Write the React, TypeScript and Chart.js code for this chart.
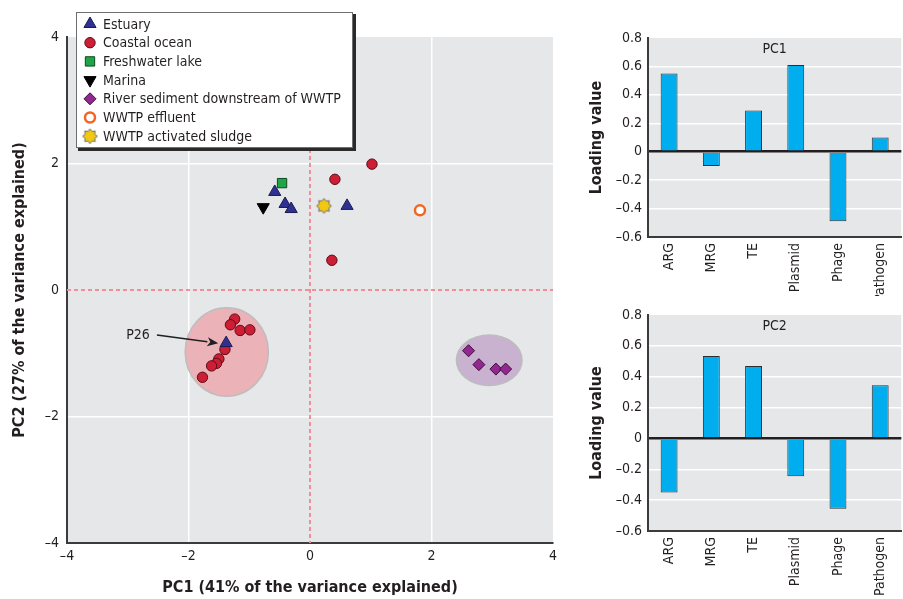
import React, { useEffect, useRef } from 'react';
import { Chart, registerables } from 'chart.js';
import { drawPoint } from 'chart.js/helpers';

Chart.register(...registerables);

const FONT = "'Liberation Sans Narrow', 'DejaVu Sans Condensed', 'Liberation Sans', Arial, sans-serif";
const INK = '#231f20';

// ---------- PCA scores (main panel) ----------
const groupNames = [
  'Estuary',
  'Coastal ocean',
  'Freshwater lake',
  'Marina',
  'River sediment downstream of WWTP',
  'WWTP effluent',
  'WWTP activated sludge',
];
const estuaryX = [-0.58, -0.41, -0.31, 0.61, -1.38];
const estuaryY = [1.55, 1.36, 1.28, 1.33, -0.84];
const coastalX = [1.02, 0.41, 0.36, -1.24, -1.31, -1.15, -0.99, -1.4, -1.5, -1.54, -1.62, -1.77];
const coastalY = [1.99, 1.75, 0.47, -0.46, -0.55, -0.64, -0.63, -0.94, -1.09, -1.16, -1.2, -1.38];
const freshwaterX = [-0.46];
const freshwaterY = [1.69];
const marinaX = [-0.77];
const marinaY = [1.31];
const riverX = [2.61, 2.78, 3.06, 3.22];
const riverY = [-0.96, -1.18, -1.25, -1.25];
const effluentX = [1.81];
const effluentY = [1.26];
const sludgeX = [0.23];
const sludgeY = [1.33];

// cluster ellipses (centre x, centre y, radius x, radius y) in PC units
const ellipseCX = [-1.37, 2.95];
const ellipseCY = [-0.98, -1.11];
const ellipseRX = [0.685, 0.54];
const ellipseRY = [0.7, 0.4];

// P26 annotation
const p26Label = 'P26';
const p26LabelXY = [-2.83, -0.71];
const p26ArrowFrom = [-2.52, -0.71];
const p26ArrowTo = [-1.51, -0.84];

const axisTicks = [-4, -2, 0, 2, 4];

// ---------- loadings ----------
const loadingCategories = ['ARG', 'MRG', 'TE', 'Plasmid', 'Phage', 'Pathogen'];
const pc1Loadings = [0.55, -0.1, 0.29, 0.61, -0.49, 0.1];
const pc2Loadings = [-0.35, 0.535, 0.47, -0.245, -0.455, 0.345];

const fmtNum = (v: number) => {
  const r = Math.round(v * 10) / 10;
  if (r === 0) return '0';
  const s = Math.abs(r).toString();
  return r < 0 ? '\u2013' + s : s;
};

function makeStar(): HTMLCanvasElement {
  const c = document.createElement('canvas');
  c.width = 17;
  c.height = 17;
  const ctx = c.getContext('2d')!;
  const cx = 8.5, cy = 8.5, ro = 7.5, ri = 5.2, n = 8;
  ctx.beginPath();
  for (let i = 0; i < n * 2; i++) {
    const a = (Math.PI * i) / n - Math.PI / 2;
    const r = i % 2 === 0 ? ro : ri;
    const x = cx + r * Math.cos(a);
    const y = cy + r * Math.sin(a);
    if (i === 0) ctx.moveTo(x, y);
    else ctx.lineTo(x, y);
  }
  ctx.closePath();
  ctx.fillStyle = '#f2c811';
  ctx.fill();
  ctx.lineWidth = 1;
  ctx.strokeStyle = '#6b6b6b';
  ctx.stroke();
  return c;
}

function ScatterPanel() {
  const ref = useRef<HTMLCanvasElement>(null);
  useEffect(() => {
    const star = makeStar();
    const groups = [
      { xs: estuaryX, ys: estuaryY, style: 'triangle', rot: 0, r: 7, fill: '#2e3192', stroke: '#1b1b50', bw: 1 },
      { xs: coastalX, ys: coastalY, style: 'circle', rot: 0, r: 5.2, fill: '#cc1f36', stroke: '#5c0c16', bw: 1 },
      { xs: freshwaterX, ys: freshwaterY, style: 'rect', rot: 0, r: 6.6, fill: '#1fa548', stroke: '#0d4a20', bw: 1 },
      { xs: marinaX, ys: marinaY, style: 'triangle', rot: 180, r: 7, fill: '#000000', stroke: '#000000', bw: 1 },
      { xs: riverX, ys: riverY, style: 'rectRot', rot: 0, r: 6, fill: '#92278f', stroke: '#3d0d3b', bw: 1 },
      { xs: effluentX, ys: effluentY, style: 'circle', rot: 0, r: 5, fill: '#ffffff', stroke: '#f26522', bw: 2.5 },
      { xs: sludgeX, ys: sludgeY, style: star as any, rot: 0, r: 8, fill: '#f2c811', stroke: '#6b6b6b', bw: 1 },
    ];

    const plugin = {
      id: 'scatterDecor',
      beforeDraw(chart: any) {
        const { ctx, chartArea: a } = chart;
        ctx.save();
        ctx.fillStyle = '#e6e7e8';
        ctx.fillRect(a.left, a.top, a.right - a.left, a.bottom - a.top);
        ctx.restore();
      },
      beforeDatasetsDraw(chart: any) {
        const { ctx, chartArea: a, scales } = chart;
        const xs = scales.x, ys = scales.y;
        ctx.save();
        ctx.strokeStyle = '#ef8f98';
        ctx.lineWidth = 2;
        ctx.setLineDash([4, 3]);
        const x0 = Math.round(xs.getPixelForValue(0));
        const y0 = Math.round(ys.getPixelForValue(0));
        ctx.beginPath();
        ctx.moveTo(x0, a.top);
        ctx.lineTo(x0, a.bottom);
        ctx.moveTo(a.left, y0);
        ctx.lineTo(a.right, y0);
        ctx.stroke();
        ctx.setLineDash([]);
        const fills = ['#ebb3b8', '#c9b1d0'];
        for (let i = 0; i < ellipseCX.length; i++) {
          const cx = xs.getPixelForValue(ellipseCX[i]);
          const cy = ys.getPixelForValue(ellipseCY[i]);
          const rx = Math.abs(xs.getPixelForValue(ellipseCX[i] + ellipseRX[i]) - cx);
          const ry = Math.abs(ys.getPixelForValue(ellipseCY[i] + ellipseRY[i]) - cy);
          ctx.beginPath();
          ctx.ellipse(cx, cy, rx, ry, 0, 0, Math.PI * 2);
          ctx.fillStyle = fills[i];
          ctx.fill();
          ctx.lineWidth = 1.5;
          ctx.strokeStyle = '#bdbdbd';
          ctx.stroke();
        }
        ctx.restore();
      },
      afterDatasetsDraw(chart: any) {
        const { ctx, scales } = chart;
        const xs = scales.x, ys = scales.y;
        ctx.save();
        const lx = xs.getPixelForValue(p26LabelXY[0]);
        const ly = ys.getPixelForValue(p26LabelXY[1]);
        ctx.font = `14px ${FONT}`;
        ctx.fillStyle = INK;
        ctx.textAlign = 'center';
        ctx.textBaseline = 'middle';
        ctx.fillText(p26Label, lx, ly);
        const ax = xs.getPixelForValue(p26ArrowFrom[0]);
        const ay = ys.getPixelForValue(p26ArrowFrom[1]);
        const bx = xs.getPixelForValue(p26ArrowTo[0]);
        const by = ys.getPixelForValue(p26ArrowTo[1]);
        const ang = Math.atan2(by - ay, bx - ax);
        const hl = 11, hw = 4.5;
        const hx = bx - hl * Math.cos(ang);
        const hy = by - hl * Math.sin(ang);
        ctx.strokeStyle = INK;
        ctx.lineWidth = 1.5;
        ctx.beginPath();
        ctx.moveTo(ax, ay);
        ctx.lineTo(hx, hy);
        ctx.stroke();
        ctx.fillStyle = INK;
        ctx.beginPath();
        ctx.moveTo(bx, by);
        ctx.lineTo(hx - hw * Math.sin(ang), hy + hw * Math.cos(ang));
        ctx.lineTo(hx + 3 * Math.cos(ang), hy + 3 * Math.sin(ang));
        ctx.lineTo(hx + hw * Math.sin(ang), hy - hw * Math.cos(ang));
        ctx.closePath();
        ctx.fill();
        ctx.restore();
      },
      afterDraw(chart: any) {
        const { ctx } = chart;
        const bx = 76, by = 12, bw = 277, bh = 136;
        ctx.save();
        ctx.fillStyle = '#2a2a2a';
        ctx.fillRect(bx + 2, by + 2, bw + 1, bh + 1);
        ctx.fillStyle = '#ffffff';
        ctx.fillRect(bx, by, bw, bh);
        ctx.strokeStyle = '#6d6e71';
        ctx.lineWidth = 1;
        ctx.strokeRect(bx + 0.5, by + 0.5, bw - 1, bh - 1);
        ctx.font = `14px ${FONT}`;
        ctx.textAlign = 'left';
        ctx.textBaseline = 'middle';
        chart.data.datasets.forEach((ds: any, i: number) => {
          const g = groups[i];
          const y = by + 12 + i * 18.7;
          ctx.fillStyle = g.fill;
          ctx.strokeStyle = g.stroke;
          ctx.lineWidth = g.bw;
          drawPoint(ctx, { pointStyle: g.style, rotation: g.rot, radius: g.r, borderWidth: g.bw } as any, 90, y);
          ctx.fillStyle = INK;
          ctx.fillText(ds.label, 103, y + 1);
        });
        ctx.restore();
      },
    };

    const chart = new Chart(ref.current!, {
      type: 'scatter',
      data: {
        datasets: groups.map((g, i) => ({
          label: groupNames[i],
          data: g.xs.map((x, j) => ({ x, y: g.ys[j] })),
          pointStyle: g.style,
          rotation: g.rot,
          pointRotation: g.rot,
          pointRadius: g.r,
          backgroundColor: g.fill,
          borderColor: g.stroke,
          borderWidth: g.bw,
          pointBorderWidth: g.bw,
        })) as any,
      },
      options: {
        responsive: false,
        animation: false,
        events: [],
        layout: { padding: { left: 0, top: 37, right: 27, bottom: 0 } },
        plugins: { legend: { display: false }, tooltip: { enabled: false } },
        scales: {
          x: {
            type: 'linear',
            min: -4,
            max: 4,
            afterBuildTicks: (s: any) => { s.ticks = axisTicks.map((v) => ({ value: v })); },
            afterFit: (s: any) => { s.height = 56; },
            ticks: { callback: (v: any) => fmtNum(Number(v)), font: { family: FONT, size: 14 }, color: INK, padding: 5 },
            grid: { drawTicks: false, color: (c: any) => (Math.abs(c.tick?.value) === 2 ? '#ffffff' : 'rgba(0,0,0,0)'), lineWidth: 1.5 },
            border: { display: true, color: '#3b3b3b', width: 2 },
            title: { display: true, text: 'PC1 (41% of the variance explained)', font: { family: FONT, size: 16, weight: 'bold' }, color: INK, padding: { top: 0, bottom: 2 } },
          },
          y: {
            type: 'linear',
            min: -4,
            max: 4,
            afterBuildTicks: (s: any) => { s.ticks = axisTicks.map((v) => ({ value: v })); },
            afterFit: (s: any) => { s.width = 67; },
            ticks: { callback: (v: any) => fmtNum(Number(v)), font: { family: FONT, size: 14 }, color: INK, padding: 8 },
            grid: { drawTicks: false, color: (c: any) => (Math.abs(c.tick?.value) === 2 ? '#ffffff' : 'rgba(0,0,0,0)'), lineWidth: 1.5 },
            border: { display: true, color: '#3b3b3b', width: 2 },
            title: { display: true, text: 'PC2 (27% of the variance explained)', font: { family: FONT, size: 16, weight: 'bold' }, color: INK, padding: { top: 10, bottom: 0 } },
          },
        },
      },
      plugins: [plugin as any],
    });
    return () => chart.destroy();
  }, []);
  return <canvas ref={ref} width={580} height={599} style={{ position: 'absolute', left: 0, top: 0, width: 580, height: 599 }} />;
}

function BarPanel(props: { title: string; values: number[]; top: number; height: number; areaTop: number; axisH: number }) {
  const ref = useRef<HTMLCanvasElement>(null);
  const { title, values, top, height, areaTop, axisH } = props;
  useEffect(() => {
    const plugin = {
      id: 'barDecor',
      beforeDraw(chart: any) {
        const { ctx, chartArea: a } = chart;
        ctx.save();
        ctx.fillStyle = '#e6e7e8';
        ctx.fillRect(a.left, a.top, a.right - a.left, a.bottom - a.top);
        ctx.restore();
      },
      afterDraw(chart: any) {
        const { ctx, chartArea: a } = chart;
        ctx.save();
        ctx.font = `14px ${FONT}`;
        ctx.fillStyle = INK;
        ctx.textAlign = 'center';
        ctx.textBaseline = 'middle';
        ctx.fillText(title, (a.left + a.right) / 2, a.top + 11);
        ctx.restore();
      },
    };
    const chart = new Chart(ref.current!, {
      type: 'bar',
      data: {
        labels: loadingCategories,
        datasets: [
          {
            label: title,
            data: values,
            backgroundColor: '#00aeef',
            borderColor: '#2e2e2e',
            borderWidth: 1,
            categoryPercentage: 1,
            barPercentage: 0.4,
          },
        ],
      },
      options: {
        responsive: false,
        animation: false,
        events: [],
        layout: { padding: { left: 0, top: areaTop, right: 0, bottom: 0 } },
        plugins: { legend: { display: false }, tooltip: { enabled: false } },
        scales: {
          x: {
            afterFit: (s: any) => { s.height = axisH; },
            ticks: { minRotation: 90, maxRotation: 90, font: { family: FONT, size: 14 }, color: INK, padding: 6, autoSkip: false },
            grid: { display: false, drawTicks: false },
            border: { display: true, color: '#3b3b3b', width: 2 },
          },
          y: {
            min: -0.6,
            max: 0.8,
            afterBuildTicks: (s: any) => {
              const t = [];
              for (let i = 0; i <= 7; i++) t.push({ value: Math.round((-0.6 + i * 0.2) * 10) / 10 });
              s.ticks = t;
            },
            afterFit: (s: any) => { s.width = 68; },
            ticks: { callback: (v: any) => fmtNum(Number(v)), font: { family: FONT, size: 14 }, color: INK, padding: 6 },
            grid: {
              drawTicks: false,
              color: (c: any) => {
                const v = c.tick?.value;
                if (v === 0) return '#231f20';
                if (v === -0.6 || v === 0.8) return 'rgba(0,0,0,0)';
                return '#ffffff';
              },
              lineWidth: (c: any) => (c.tick?.value === 0 ? 2.5 : 1.5),
            },
            border: { display: true, color: '#3b3b3b', width: 2 },
            title: { display: true, text: 'Loading value', font: { family: FONT, size: 16, weight: 'bold' }, color: INK, padding: { top: 7, bottom: 0 } },
          },
        },
      },
      plugins: [plugin as any],
    });
    return () => chart.destroy();
  }, []);
  return <canvas ref={ref} width={323} height={height} style={{ position: 'absolute', left: 580, top, width: 323, height }} />;
}

export default function App() {
  return (
    <div style={{ position: 'absolute', left: 0, top: 0, width: 903, height: 599, background: '#ffffff', overflow: 'hidden' }}>
      <ScatterPanel />
      <BarPanel title="PC1" values={pc1Loadings} top={0} height={296} areaTop={38} axisH={59} />
      <BarPanel title="PC2" values={pc2Loadings} top={296} height={303} areaTop={19} axisH={68} />
    </div>
  );
}
